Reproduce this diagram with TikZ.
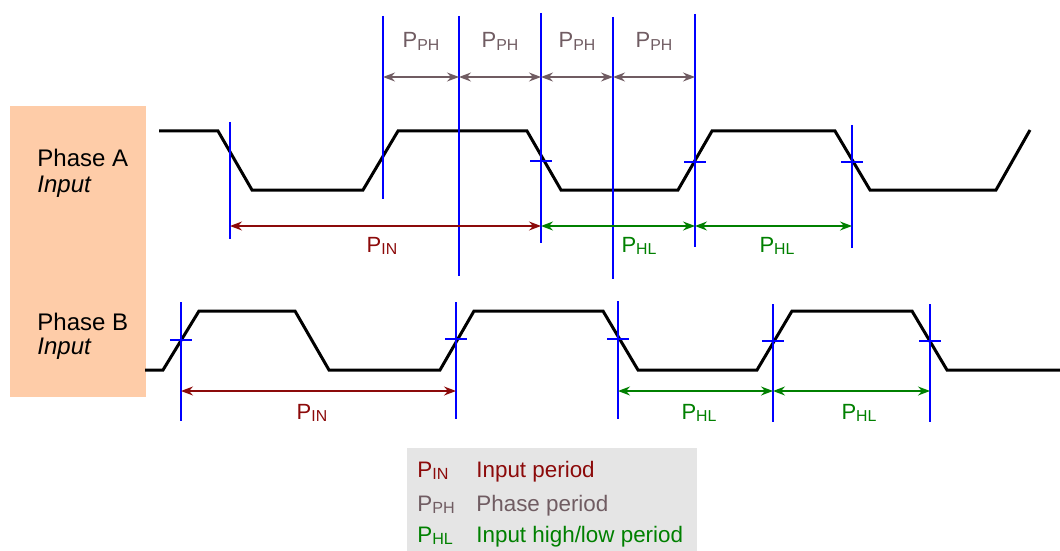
\documentclass[tikz,border=0pt]{standalone}
\usepackage{fontspec}
\setmainfont{Liberation Sans}
\usetikzlibrary{arrows.meta}
\definecolor{inred}{RGB}{140,10,10}
\definecolor{phgray}{RGB}{112,92,98}
\definecolor{hlgreen}{RGB}{0,128,0}
\definecolor{mkblue}{RGB}{0,0,255}
\definecolor{namebg}{RGB}{254,204,168}
\definecolor{legendbg}{RGB}{229,229,229}
\newcommand{\psub}[1]{P\raisebox{-0.25ex}{\scalebox{0.72}{#1}}}
\tikzset{
  wave/.style={line width=1.5pt, line join=miter},
  marker/.style={mkblue, line width=0.75pt},
  tickmark/.style={mkblue, line width=0.6pt},
  span/.style={{Stealth[length=6pt,width=4.5pt,inset=2pt]}-{Stealth[length=6pt,width=4.5pt,inset=2pt]}, line width=0.7pt},
  spanlabel/.style={anchor=base, inner sep=0pt, font=\fontsize{11}{13}\selectfont},
  phlabel/.style={anchor=base, inner sep=0pt, font=\fontsize{11}{13}\selectfont, text=phgray},
  signame/.style={anchor=base west, inner sep=0pt, font=\fontsize{12}{14}\selectfont},
  legendtext/.style={anchor=base west, inner sep=0pt, font=\fontsize{11.2}{13}\selectfont},
}
\begin{document}
\begin{tikzpicture}[x=0.5pt,y=-0.5pt]
\useasboundingbox (0,0) rectangle (1060,551);
\fill[namebg] (10,106) rectangle (146,397);
\node[signame] (nameA) at (37,167) {Phase A};
\node[signame] (inA) at (37,192) {\itshape Input};
\node[signame] (nameB) at (37,330) {Phase B};
\node[signame] (inB) at (37,354) {\itshape Input};
% waveforms
\draw[wave] (159,131) -- (218,131) -- (252,190) -- (363,190) -- (398,131) -- (527,131)
  -- (561,190) -- (678,190) -- (712,131) -- (835,131) -- (870,190) -- (996,190) -- (1030,130);
\draw[wave] (145,370) -- (163,370) -- (199,311) -- (295,311) -- (329,370) -- (440,370)
  -- (474,311) -- (603,311) -- (638,370) -- (757,370) -- (792,311) -- (912,311)
  -- (947,370) -- (1060,370);
% marker lines
\foreach \name/\x/\ya/\yb in {mA1/230/122/239, mA2/383/16/199, mA3/459/16/276,
  mA4/541/13/243, mA5/613/17/279, mA6/695/14/247, mA7/852/125/248,
  mB1/181/302/421, mB2/456/302/419, mB3/618/301/419, mB4/773/304/422, mB5/930/304/422}
  \draw[marker] (\x,\ya) coordinate (\name t) -- (\x,\yb) coordinate (\name b);
\foreach \name/\y in {mA4/161, mA6/162, mA7/162, mB1/340, mB2/339, mB3/339, mB4/341, mB5/341}
  \draw[tickmark] ([xshift=-5.5pt]\name t |- 0,\y) -- ([xshift=5.5pt]\name t |- 0,\y);
\coordinate (lvP) at (0,77);
\coordinate (lvA) at (0,226);
\coordinate (lvB) at (0,391);
% phase periods
\draw[span,phgray] (mA2t |- lvP) -- (mA3t |- lvP);
\draw[span,phgray] (mA3t |- lvP) -- (mA4t |- lvP);
\draw[span,phgray] (mA4t |- lvP) -- (mA5t |- lvP);
\draw[span,phgray] (mA5t |- lvP) -- (mA6t |- lvP);
\node[phlabel] (ph1) at (421,48) {\psub{PH}};
\node[phlabel] (ph2) at (500,48) {\psub{PH}};
\node[phlabel] (ph3) at (577,48) {\psub{PH}};
\node[phlabel] (ph4) at (654,48) {\psub{PH}};
% phase A spans
\draw[span,inred] (mA1b |- lvA) -- (mA4b |- lvA);
\draw[span,hlgreen] (mA4b |- lvA) -- (mA6b |- lvA);
\draw[span,hlgreen] (mA6b |- lvA) -- (mA7b |- lvA);
\node[spanlabel,text=inred] (inA) at (382,252) {\psub{IN}};
\node[spanlabel,text=hlgreen] (hlA1) at (639,252) {\psub{HL}};
\node[spanlabel,text=hlgreen] (hlA2) at (777,252) {\psub{HL}};
% phase B spans
\draw[span,inred] (mB1b |- lvB) -- (mB2b |- lvB);
\draw[span,hlgreen] (mB3b |- lvB) -- (mB4b |- lvB);
\draw[span,hlgreen] (mB4b |- lvB) -- (mB5b |- lvB);
\node[spanlabel,text=inred] (inB) at (312,419) {\psub{IN}};
\node[spanlabel,text=hlgreen] (hlB1) at (699,419) {\psub{HL}};
\node[spanlabel,text=hlgreen] (hlB2) at (859,419) {\psub{HL}};
% legend
\fill[legendbg] (407,448) rectangle (697,551);
\node[legendtext,text=inred] (keyIN) at (417,477) {\psub{IN}};
\node[legendtext,text=inred] (txtIN) at (476,477) {Input period};
\node[legendtext,text=phgray] (keyPH) at (417,511) {\psub{PH}};
\node[legendtext,text=phgray] (txtPH) at (476,511) {Phase period};
\node[legendtext,text=hlgreen] (keyHL) at (417,542) {\psub{HL}};
\node[legendtext,text=hlgreen] (txtHL) at (476,542) {Input high/low period};
\end{tikzpicture}
\end{document}
